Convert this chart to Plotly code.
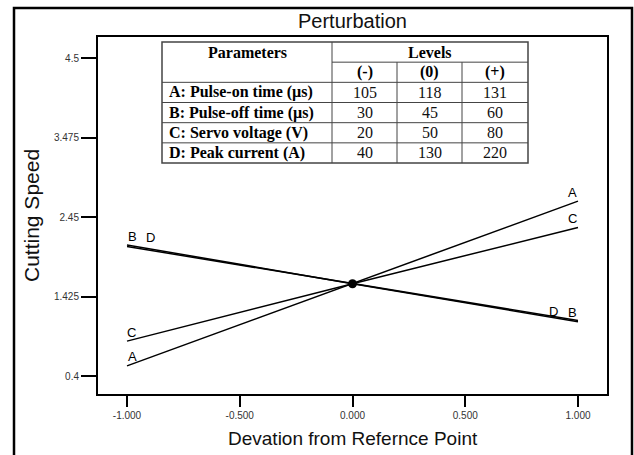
import plotly.graph_objects as go

# ---------------- data ----------------
dev_x = [-1.0, 0.0, 1.0]
series_names = ["A", "B", "C", "D"]
speed_A = [0.53, 1.59, 2.655]
speed_B = [2.09, 1.59, 1.10]
speed_C = [0.85, 1.59, 2.315]
speed_D = [2.07, 1.59, 1.115]

y_tick_vals = [0.4, 1.425, 2.45, 3.475, 4.5]
y_tick_text = ["0.4", "1.425", "2.45", "3.475", "4.5"]
x_tick_vals = [-1.0, -0.5, 0.0, 0.5, 1.0]
x_tick_text = ["-1.000", "-0.500", "0.000", "0.500", "1.000"]

param_names = ["A: Pulse-on time (µs)", "B: Pulse-off time (µs)",
               "C: Servo voltage (V)", "D: Peak current (A)"]
level_heads = ["(-)", "(0)", "(+)"]
level_low = [105, 30, 20, 40]
level_mid = [118, 45, 50, 130]
level_high = [131, 60, 80, 220]

# ---------------- layout geometry ----------------
W, H = 634, 455
L, R, T, B = 98, 27, 37, 61
PW, PH = W - L - R, H - T - B


def fx(px):
    return (px - L) / PW


def fy(py):
    return (H - B - py) / PH


fig = go.Figure()

series = {"A": speed_A, "B": speed_B, "C": speed_C, "D": speed_D}
for name in series_names:
    fig.add_trace(go.Scatter(x=dev_x, y=series[name], mode="lines",
                             line=dict(color="black", width=1.5),
                             name=name, showlegend=False, hoverinfo="x+y+name"))

fig.add_trace(go.Scatter(x=[dev_x[1]], y=[speed_A[1]], mode="markers",
                         marker=dict(color="black", size=9),
                         showlegend=False, hoverinfo="skip"))

annotations = []
lab_font = dict(family="Liberation Sans, Arial", size=13, color="black")
left_shift = {"A": (5, 9), "B": (5, 8), "C": (4, 9), "D": (23, 9)}
right_shift = {"A": (-6, 9), "B": (-6, 9), "C": (-6, 9), "D": (-25, 9)}
for name in series_names:
    vals = series[name]
    sx, sy = left_shift[name]
    annotations.append(dict(x=dev_x[0], y=vals[0], xref="x", yref="y", text=name,
                            showarrow=False, xanchor="center", yanchor="middle",
                            xshift=sx, yshift=sy, font=lab_font))
    sx, sy = right_shift[name]
    annotations.append(dict(x=dev_x[-1], y=vals[-1], xref="x", yref="y", text=name,
                            showarrow=False, xanchor="center", yanchor="middle",
                            xshift=sx, yshift=sy, font=lab_font))

# titles
annotations.append(dict(x=fx(352.5), y=fy(21), xref="paper", yref="paper",
                        text="Perturbation", showarrow=False, xanchor="center",
                        yanchor="middle",
                        font=dict(family="Liberation Sans, Arial", size=20, color="#111")))
annotations.append(dict(x=fx(31), y=fy(216), xref="paper", yref="paper",
                        text="Cutting Speed", showarrow=False, textangle=-90,
                        xanchor="center", yanchor="middle",
                        font=dict(family="Liberation Sans, Arial", size=21, color="#111")))
annotations.append(dict(x=fx(353), y=fy(438), xref="paper", yref="paper",
                        text="Devation from Refernce Point", showarrow=False,
                        xanchor="center", yanchor="middle",
                        font=dict(family="Liberation Sans, Arial", size=19, color="#111")))

# ---------------- table ----------------
col_x = [162, 332, 397, 462, 528]
row_y = [42 + 20.17 * k for k in range(7)]
shapes = []
tcol = "#444"


def hline(x0, x1, y, w=1):
    shapes.append(dict(type="line", xref="paper", yref="paper",
                       x0=fx(x0), x1=fx(x1), y0=fy(y), y1=fy(y),
                       line=dict(color=tcol, width=w)))


def vline(x, y0, y1, w=1):
    shapes.append(dict(type="line", xref="paper", yref="paper",
                       x0=fx(x), x1=fx(x), y0=fy(y0), y1=fy(y1),
                       line=dict(color=tcol, width=w)))


shapes.append(dict(type="rect", xref="paper", yref="paper",
                   x0=fx(col_x[0]), x1=fx(col_x[-1]), y0=fy(row_y[-1]), y1=fy(row_y[0]),
                   line=dict(color=tcol, width=1.5), fillcolor="white", layer="below"))
vline(col_x[1], row_y[0], row_y[-1])
vline(col_x[2], row_y[1], row_y[-1])
vline(col_x[3], row_y[1], row_y[-1])
hline(col_x[1], col_x[-1], row_y[1])
for k in range(2, 6):
    hline(col_x[0], col_x[-1], row_y[k])

serif_b = dict(family="Liberation Serif, Times New Roman", size=16, color="black")
serif_r = dict(family="Liberation Serif, Times New Roman", size=16, color="#111")


def ttext(txt, px, py, font, anchor="center"):
    annotations.append(dict(x=fx(px), y=fy(py), xref="paper", yref="paper",
                            text=txt, showarrow=False, xanchor=anchor,
                            yanchor="middle", font=font))


ttext("<b>Parameters</b>", (col_x[0] + col_x[1]) / 2, (row_y[0] + row_y[1]) / 2, serif_b)
ttext("<b>Levels</b>", (col_x[1] + col_x[-1]) / 2, (row_y[0] + row_y[1]) / 2, serif_b)
for j, h in enumerate(level_heads):
    ttext("<b>" + h + "</b>", (col_x[j + 1] + col_x[j + 2]) / 2,
          (row_y[1] + row_y[2]) / 2, serif_b)
for i, pname in enumerate(param_names):
    cy = (row_y[i + 2] + row_y[i + 3]) / 2
    ttext("<b>" + pname + "</b>", col_x[0] + 5, cy, serif_b, anchor="left")
    for j, v in enumerate([level_low[i], level_mid[i], level_high[i]]):
        ttext(str(v), (col_x[j + 1] + col_x[j + 2]) / 2, cy, serif_r)

# outer frame of the whole picture
shapes.append(dict(type="rect", xref="paper", yref="paper",
                   x0=fx(14), x1=fx(632), y0=fy(475), y1=fy(8),
                   line=dict(color="black", width=2.5)))

tick_font = dict(family="Liberation Sans, Arial", size=10, color="#333")
fig.update_layout(
    width=W, height=H,
    margin=dict(l=L, r=R, t=T, b=B),
    paper_bgcolor="white", plot_bgcolor="white",
    showlegend=False,
    xaxis=dict(range=[-1.1286, 1.1286], tickvals=x_tick_vals, ticktext=x_tick_text,
               ticks="outside", ticklen=11, tickwidth=1.5, tickcolor="black",
               showline=True, linecolor="black", linewidth=2, mirror=True,
               showgrid=False, zeroline=False, tickfont=tick_font),
    yaxis=dict(range=[0.168, 4.771], tickvals=y_tick_vals, ticktext=y_tick_text,
               ticks="outside", ticklen=15, tickwidth=1.5, tickcolor="black",
               showline=True, linecolor="black", linewidth=2, mirror=True,
               showgrid=False, zeroline=False, tickfont=tick_font),
    shapes=shapes,
    annotations=annotations,
)

fig.write_html(
    "out.html",
    config={"displayModeBar": False},
    post_script="document.body.style.margin='0';document.body.style.overflow='hidden';"
                "document.documentElement.style.overflow='hidden';",
)
